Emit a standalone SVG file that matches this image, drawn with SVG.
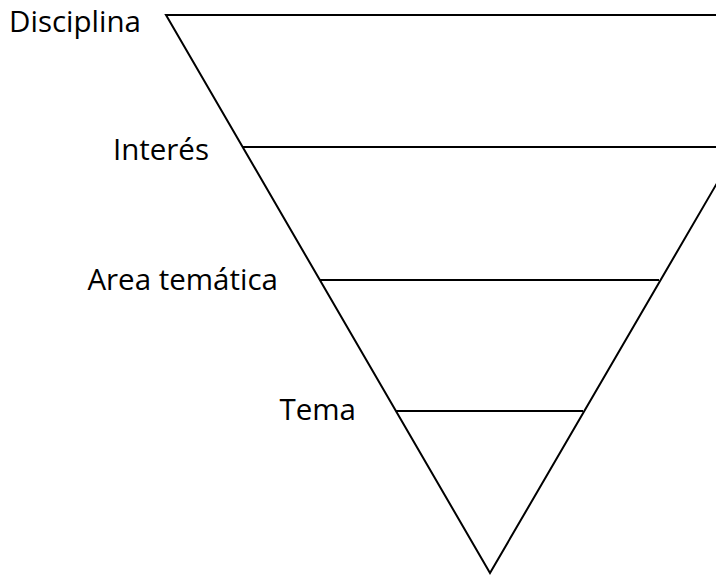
<svg xmlns="http://www.w3.org/2000/svg" width="716" height="576" viewBox="0 0 716 576">
<style>
.l{fill:none;stroke:#000;stroke-width:2;stroke-linejoin:miter}
.t{font-family:"Open Sans","Noto Sans",sans-serif;font-size:29.5px;fill:#000;text-anchor:end}
</style>
<rect width="716" height="576" fill="#fff"/>
<g id="connectors">
<polyline class="l" points="717,15 166,15 490,573 720,178"/>
<line class="l" x1="243" y1="147" x2="717" y2="147"/>
<line class="l" x1="320" y1="280" x2="659" y2="280"/>
<line class="l" x1="396" y1="411" x2="583" y2="411"/>
</g>
<g id="disciplina"><text class="t" x="141" y="32">Disciplina</text></g>
<g id="interes"><text class="t" x="209" y="160">Interés</text></g>
<g id="area"><text class="t" x="278" y="290">Area temática</text></g>
<g id="tema"><text class="t" x="356" y="420">Tema</text></g>
</svg>
